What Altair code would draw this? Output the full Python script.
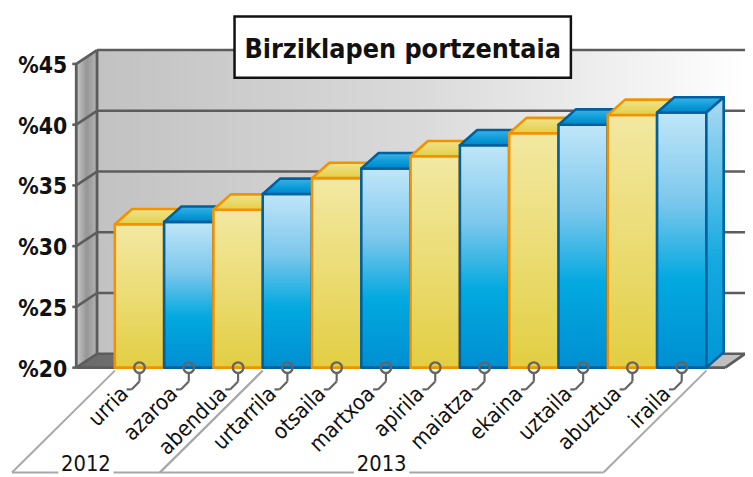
import altair as alt
import pandas as pd

# ---------------- data ----------------
months = ["urria", "azaroa", "abendua", "urtarrila", "otsaila", "martxoa",
          "apirila", "maiatza", "ekaina", "uztaila", "abuztua", "iraila"]
values = [31.8, 32.0, 33.0, 34.3, 35.6, 36.4, 37.4, 38.3, 39.3, 40.0, 40.8, 41.0]
years = ["2012", "2013"]
year_start = [0, 3]
year_end = [3, 12]
y_ticks = [20, 25, 30, 35, 40, 45]
title_text = ["Birziklapen portzentaia"]

# ---------------- layout ----------------
FONT = "DejaVu Sans Condensed, Liberation Sans Narrow, sans-serif"
W, H = 745, 469
PXU = 49.83      # px per category
PXV = 12.28      # px per percentage point
X0 = 108         # px of first bar left edge
Y0 = 361         # px of base value
BASE = y_ticks[0]
TOP = y_ticks[-1]

xdom = [-X0 / PXU, (W - X0) / PXU]
ydom = [BASE - (H - Y0) / PXV, BASE + Y0 / PXV]
AX = (69 - X0) / PXU
DXW, DYW = 21 / PXU, 14 / PXV
DXB, DYB = 17.5 / PXU, 15.5 / PXV
FLOOR_R = (725 - X0) / PXU
XMAX = xdom[1]

xs = alt.Scale(domain=xdom, nice=False, zero=False)
ys = alt.Scale(domain=ydom, nice=False, zero=False)


def X(f, **kw):
    return alt.X(f, type="quantitative", scale=xs, axis=None, **kw)


def Y(f, **kw):
    return alt.Y(f, type="quantitative", scale=ys, axis=None, **kw)


def grad(stops, vertical=True):
    return alt.Gradient(
        gradient="linear",
        stops=[alt.GradientStop(offset=o, color=c) for o, c in stops],
        x1=0, y1=0, x2=0 if vertical else 1, y2=1 if vertical else 0)


GRID = "#5c5c5c"
layers = []

# back wall
back = pd.DataFrame({"x": [AX + DXW], "x2": [XMAX], "y": [BASE + DYW], "y2": [TOP + DYW]})
layers.append(alt.Chart(back).mark_rect(
    fill=grad([(0, "#c2c2c2"), (0.5, "#dadada"), (0.85, "#f3f3f3"), (1, "#ffffff")], vertical=False)
).encode(x=X("x"), x2="x2", y=Y("y"), y2="y2"))

# left wall
lw = pd.DataFrame({"x": [AX, AX + DXW], "ya": [BASE, BASE + DYW], "yb": [TOP, TOP + DYW]})
layers.append(alt.Chart(lw).mark_area(
    orient="vertical",
    fill=grad([(0, "#c8c8c8"), (0.5, "#969696"), (1, "#b4b4b4")], vertical=False)
).encode(x=X("x"), y=Y("ya", stack=None), y2="yb"))

# floor
fl = pd.DataFrame({"y": [BASE, BASE + DYW], "xa": [AX, AX + DXW], "xb": [FLOOR_R, XMAX]})
layers.append(alt.Chart(fl).mark_area(
    orient="horizontal",
    fill=grad([(0, "#6a6a6a"), (0.6, "#8a8a8a"), (1, "#c4c4c4")], vertical=False)
).encode(y=Y("y"), x=X("xa", stack=None), x2="xb"))

# grid lines
gdf = pd.DataFrame({"t": y_ticks})
gdf["tb"] = gdf["t"] + DYW
gdf["xa"] = AX
gdf["xb"] = AX + DXW
gdf["xe"] = XMAX
gdf["lab"] = ["%" + str(t) for t in y_ticks]
layers.append(alt.Chart(gdf).mark_rule(color=GRID, strokeWidth=2.6).encode(
    x=X("xb"), x2="xe", y=Y("tb"), y2="tb"))
layers.append(alt.Chart(gdf).mark_rule(color=GRID, strokeWidth=2.6).encode(
    x=X("xa"), x2="xb", y=Y("t"), y2="tb"))

edges = pd.DataFrame({
    "x": [AX, AX + DXW, AX, FLOOR_R],
    "x2": [AX, AX + DXW, FLOOR_R, XMAX],
    "y": [BASE, BASE + DYW, BASE, BASE],
    "y2": [TOP, TOP + DYW, BASE, BASE + DYW]})
layers.append(alt.Chart(edges).mark_rule(color=GRID, strokeWidth=2.8).encode(
    x=X("x"), x2="x2", y=Y("y"), y2="y2"))

# y axis ticks and labels
layers.append(alt.Chart(gdf).mark_rule(color=GRID, strokeWidth=2.6, xOffset=-4).encode(
    x=X("xa"), x2="xa", y=Y("t"), y2="t"))
layers.append(alt.Chart(gdf).mark_text(
    font=FONT, fontSize=23, fontWeight="bold", color="#111111", align="right",
    baseline="middle", xOffset=-9, yOffset=2
).encode(x=X("xa"), y=Y("t"), text="lab:N"))

# bars
bars = pd.DataFrame({"i": range(len(months)), "month": months, "v": values})
bars["x0"] = bars["i"]
bars["x1"] = bars["i"] + 1
bars["mid"] = bars["i"] + 0.5
bars["base"] = BASE

tops = []
rights = []
for i, v in zip(bars["i"], values):
    tops.append({"i": i, "y": v, "xa": i, "xb": i + 1})
    tops.append({"i": i, "y": v + DYB, "xa": i + DXB, "xb": i + 1 + DXB})
    rights.append({"i": i, "x": i + 1, "ya": BASE, "yb": v})
    rights.append({"i": i, "x": i + 1 + DXB, "ya": BASE + DYB, "yb": v + DYB})
tops = pd.DataFrame(tops)
rights = pd.DataFrame(rights)

Y_FRONT = grad([(0, "#f2e8a2"), (0.5, "#ebdc74"), (1, "#e2ce42")])
Y_TOP = grad([(0, "#f1e38c"), (1, "#e3cf48")])
B_FRONT = grad([(0, "#c0e6f8"), (0.35, "#7cc7ec"), (0.65, "#03a9e0"), (1, "#008fd2")])
B_TOP = grad([(0, "#3cb2e6"), (0.6, "#0a9ad8"), (1, "#0086c8")])
B_RIGHT = grad([(0, "#acdaf3"), (0.6, "#14a9e0"), (1, "#0096d6")])
ORANGE = "#f39200"
DBLUE = "#00609f"

for i in bars["i"]:
    yellow = i % 2 == 0
    col = ORANGE if yellow else DBLUE
    f = alt.datum.i == int(i)
    layers.append(alt.Chart(bars).transform_filter(f).mark_rect(
        fill=Y_FRONT if yellow else B_FRONT, stroke=col, strokeWidth=2.6, strokeJoin="round"
    ).encode(x=X("x0"), x2="x1", y=Y("base"), y2="v"))
    layers.append(alt.Chart(tops).transform_filter(f).mark_area(
        orient="horizontal", fill=Y_TOP if yellow else B_TOP, stroke=col, strokeWidth=2.6,
        strokeJoin="round"
    ).encode(y=Y("y"), x=X("xa", stack=None), x2="xb"))
    layers.append(alt.Chart(rights).transform_filter(f).mark_area(
        orient="vertical", fill=Y_FRONT if yellow else B_RIGHT, stroke=col, strokeWidth=2.6,
        strokeJoin="round"
    ).encode(x=X("x"), y=Y("ya", stack=None), y2="yb"))

# year groups
LBOT = BASE - 106 / PXV
LTOP = BASE - 3 / PXV
DIAG = -104 / PXU
GAP = 0.56
yl = []
yt = []
for name, s, e in zip(years, year_start, year_end):
    c = (s + e) / 2 + DIAG
    yl.append({"x": s, "y": LTOP, "x2": s + DIAG, "y2": LBOT})
    yl.append({"x": e, "y": LTOP, "x2": e + DIAG, "y2": LBOT})
    yl.append({"x": s + DIAG, "y": LBOT, "x2": c - GAP, "y2": LBOT})
    yl.append({"x": c + GAP, "y": LBOT, "x2": e + DIAG, "y2": LBOT})
    yt.append({"year": name, "x": c, "y": BASE - 97 / PXV})
yl = pd.DataFrame(yl)
yt = pd.DataFrame(yt)
layers.append(alt.Chart(yl).mark_rule(color="#a8a8a8", strokeWidth=2).encode(
    x=X("x"), x2="x2", y=Y("y"), y2="y2"))
layers.append(alt.Chart(yt).mark_text(font=FONT, fontSize=22, color="#111111",
                                      baseline="middle", align="center").encode(
    x=X("x"), y=Y("y"), text="year:N"))

# leaders + circles + labels
LC = "#646464"
for (ox, oy, ox2, oy2) in [(0, 6, 0, 14), (0, 14, -8, 22), (-8, 22, -13, 22)]:
    layers.append(alt.Chart(bars).mark_rule(
        color=LC, strokeWidth=2.2, xOffset=ox, yOffset=oy, x2Offset=ox2, y2Offset=oy2
    ).encode(x=X("mid"), x2="mid", y=Y("base"), y2="base"))
layers.append(alt.Chart(bars).mark_point(
    shape="circle", size=115, filled=False, color=LC, strokeWidth=2.4, opacity=1
).encode(x=X("mid"), y=Y("base")))
layers.append(alt.Chart(bars).mark_text(
    font=FONT, fontSize=22, color="#111111", angle=315, align="right",
    baseline="middle", xOffset=-15, yOffset=23
).encode(x=X("mid"), y=Y("base"), text="month:N"))

# title box
tdf = pd.DataFrame({"t": title_text})
layers.append(alt.Chart(tdf).mark_rect(fill="white", stroke="#111111", strokeWidth=2.5).encode(
    x=alt.value(229), x2=alt.value(569), y=alt.value(6), y2=alt.value(68)))
layers.append(alt.Chart(tdf).mark_text(
    font=FONT, fontSize=27, fontWeight="bold", color="#111111", align="center",
    baseline="alphabetic").encode(x=alt.value(399), y=alt.value(48), text="t:N"))

chart = alt.layer(*layers).properties(
    width=W, height=H, padding=0, autosize="none", background="white"
).configure_view(stroke=None)

chart.save("out.html", embed_options={"renderer": "svg", "actions": False})
